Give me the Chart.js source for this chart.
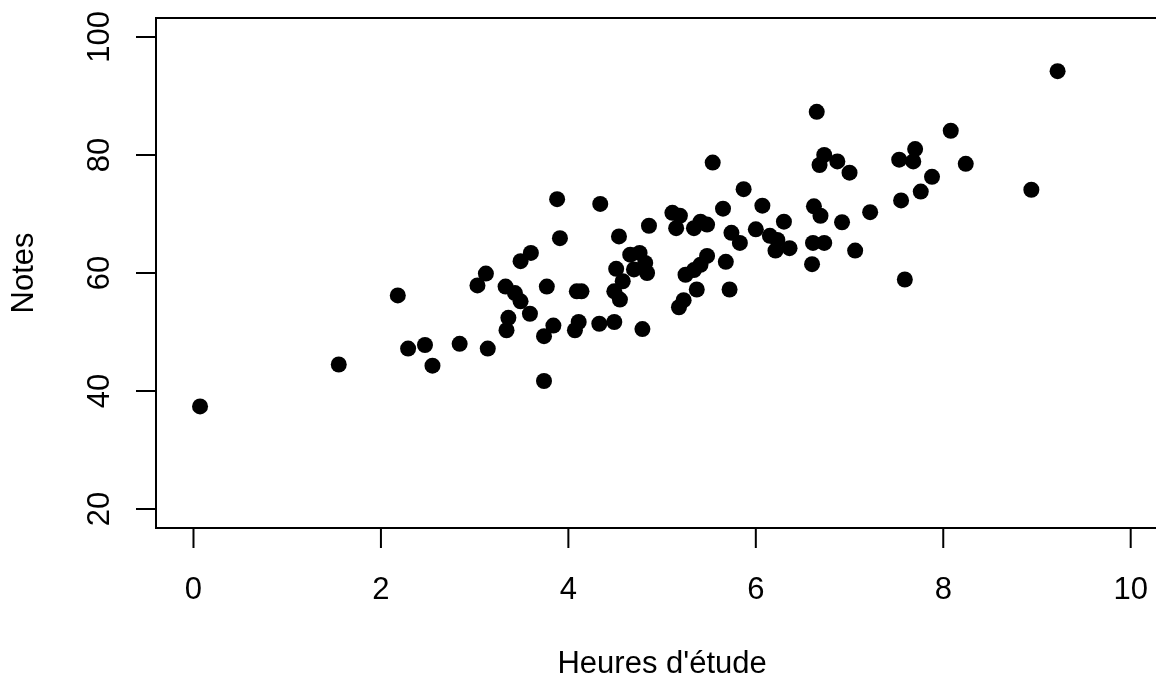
<!DOCTYPE html>
<html>
<head>
<meta charset="utf-8">
<script src="https://cdn.jsdelivr.net/npm/chart.js@4"></script>
<style>
  html, body { margin: 0; padding: 0; background: #fff; overflow: hidden; }
  #wrapper { width: 1156px; height: 677px; }
</style>
</head>
<body>
<div id="wrapper"><canvas id="myChart" width="1156" height="677"></canvas></div>
<script>
// heures d'étude (x) et notes (y)
const hours = [0.07, 1.55, 2.18, 2.29, 2.47, 2.55, 2.84, 3.14, 3.74, 3.03,
  3.12, 3.33, 3.43, 3.49, 3.36, 3.34, 3.59, 3.49, 3.60, 3.77,
  3.74, 3.84, 3.88, 3.91, 4.07, 4.11, 4.09, 4.14, 4.34, 4.33,
  4.49, 4.54, 4.51, 4.58, 4.49, 4.55, 4.66, 4.76, 4.82, 4.84,
  4.70, 4.79, 4.86, 5.11, 5.19, 5.15, 5.34, 5.41, 5.48, 5.54,
  5.65, 5.87, 5.74, 5.83, 5.48, 5.41, 5.34, 5.25, 5.68, 5.37,
  5.72, 5.23, 5.18, 6.07, 6.00, 6.15, 6.23, 6.21, 6.36, 6.30,
  6.62, 6.69, 6.92, 7.22, 6.61, 6.73, 7.06, 6.60, 6.65, 6.68,
  6.73, 6.87, 7.00, 7.53, 7.68, 7.70, 8.08, 8.24, 7.88, 7.76,
  7.55, 8.94, 9.22, 7.59]
const notes = [37.4, 44.5, 56.2, 47.2, 47.8, 44.3, 48.0, 47.2, 41.7, 57.9,
  59.9, 57.7, 56.6, 55.2, 52.4, 50.3, 53.1, 62.0, 63.4, 57.7,
  49.3, 51.1, 72.5, 65.9, 50.3, 51.7, 56.9, 56.9, 71.7, 51.4,
  51.7, 66.2, 60.7, 58.6, 56.9, 55.5, 63.1, 63.4, 61.7, 60.0,
  60.6, 50.5, 68.0, 70.2, 69.7, 67.6, 67.6, 68.7, 68.2, 78.7,
  70.9, 74.2, 66.8, 65.1, 62.9, 61.4, 60.5, 59.7, 61.9, 57.2,
  57.2, 55.4, 54.2, 71.4, 67.4, 66.3, 65.6, 63.8, 64.2, 68.7,
  71.3, 69.7, 68.6, 70.3, 65.1, 65.1, 63.8, 61.5, 87.3, 78.3,
  80.0, 78.9, 77.0, 79.2, 78.9, 81.0, 84.1, 78.5, 76.3, 73.8,
  72.3, 74.1, 94.2, 58.9]
const xTicks = [0, 2, 4, 6, 8, 10]
const yTicks = [20, 40, 60, 80, 100]
const xTitle = "Heures d'étude"
const yTitle = 'Notes'

const FONT = '31px "Liberation Sans", Arial, sans-serif'

// axes façon R : boîte (coupée à droite), graduations, étiquettes
const rAxes = {
  id: 'rAxes',
  afterDraw(chart) {
    const c = chart.ctx
    const xs = chart.scales.x, ys = chart.scales.y
    const left = xs.getPixelForValue(xs.min), right = chart.width + 5
    const top = ys.getPixelForValue(ys.max), bottom = ys.getPixelForValue(ys.min)
    c.save()
    c.strokeStyle = '#000'
    c.lineWidth = 2
    c.beginPath()
    c.moveTo(right, top)
    c.lineTo(left, top)
    c.lineTo(left, bottom)
    c.lineTo(right, bottom)
    c.stroke()

    c.fillStyle = '#000'
    c.font = FONT
    c.textAlign = 'center'
    c.textBaseline = 'alphabetic'

    // axe x
    c.beginPath()
    xTicks.forEach(t => {
      const px = xs.getPixelForValue(t)
      c.moveTo(px, bottom)
      c.lineTo(px, bottom + 20)
    })
    c.stroke()
    xTicks.forEach(t => c.fillText(String(t), xs.getPixelForValue(t), bottom + 71))
    const mid = (xs.getPixelForValue(-0.4) + xs.getPixelForValue(10.4)) / 2
    c.fillText(xTitle, mid, bottom + 145)

    // axe y
    c.beginPath()
    yTicks.forEach(t => {
      const py = ys.getPixelForValue(t)
      c.moveTo(left, py)
      c.lineTo(left - 20, py)
    })
    c.stroke()
    yTicks.forEach(t => {
      c.save()
      c.translate(left - 47, ys.getPixelForValue(t))
      c.rotate(-Math.PI / 2)
      c.fillText(String(t), 0, 0)
      c.restore()
    })
    c.save()
    c.translate(left - 123, (top + bottom) / 2)
    c.rotate(-Math.PI / 2)
    c.fillText(yTitle, 0, 0)
    c.restore()
    c.restore()
  }
}

const ctx = document.getElementById('myChart').getContext('2d')
new Chart(ctx, {
  type: 'scatter',
  data: {
    datasets: [{
      label: yTitle,
      data: hours.map((h, i) => ({ x: h, y: notes[i] })),
      backgroundColor: '#000',
      borderWidth: 0,
      pointRadius: 8,
      pointHoverRadius: 8
    }]
  },
  options: {
    responsive: false,
    animation: false,
    devicePixelRatio: 1,
    layout: { autoPadding: false, padding: { left: 156, top: 18, right: 0, bottom: 149 } },
    plugins: { legend: { display: false }, tooltip: { enabled: false } },
    scales: {
      // la boîte de l'original dépasse le bord droit de l'image
      x: { type: 'linear', min: -0.4, max: 10.27, display: false },
      y: { type: 'linear', min: 16.8, max: 103.2, display: false }
    }
  },
  plugins: [rAxes]
})
</script>
</body>
</html>
